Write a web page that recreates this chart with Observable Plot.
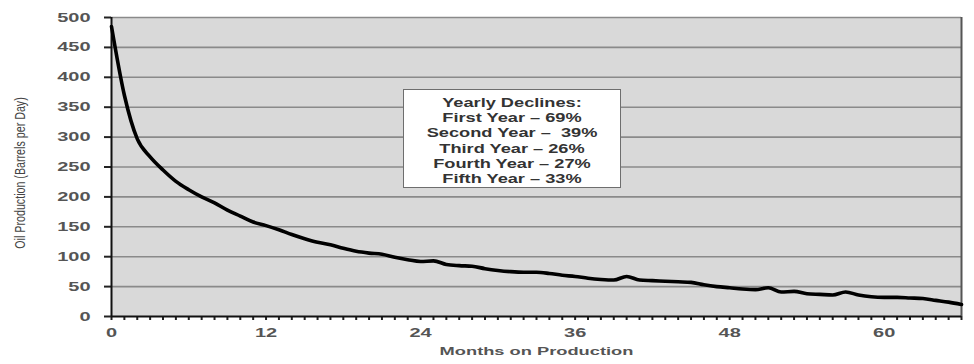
<!DOCTYPE html>
<html>
<head>
<meta charset="utf-8">
<script src="https://cdn.jsdelivr.net/npm/d3@7"></script>
<script src="https://cdn.jsdelivr.net/npm/@observablehq/plot@0.6"></script>
<style>
  html, body { margin: 0; padding: 0; background: #fff; }
  #wrap { position: relative; width: 974px; height: 364px; overflow: hidden; }
  #note {
    position: absolute; left: 403px; top: 89px; width: 218px; height: 99px;
    box-sizing: border-box; background: #fff; border: 1px solid #6e6e6e;
    padding-top: 5px;
    font-family: "Liberation Sans", Arial, sans-serif; font-weight: bold;
    font-size: 13px; color: #333; text-align: center;
  }
  #note div { height: 15.2px; line-height: 15.2px; transform: scaleX(1.4); white-space: pre; }
</style>
</head>
<body>
<div id="wrap"><div id="note"></div></div>
<script>
// ---- data ----
const months = d3.range(0, 67);
const production = [485, 370, 297, 267, 245, 226, 212, 200, 190, 178, 168, 158, 152,
  145, 137, 130, 124, 120, 114, 109, 106, 104, 99, 95, 92,
  93, 87, 85, 84, 80, 77, 75, 74, 74, 72, 69, 67,
  64, 62, 61, 67, 61, 60, 59, 58, 57, 53, 50, 48,
  46, 45, 48, 41, 42, 38, 37, 36, 41, 36, 33, 32,
  32, 31, 30, 27, 24, 20];
const yTicks = [0, 50, 100, 150, 200, 250, 300, 350, 400, 450, 500];
const xLabelTicks = [0, 12, 24, 36, 48, 60];
const yLabel = "Oil Production (Barrels per Day)";
const xLabel = "Months on Production";
const noteLines = ["Yearly Declines:", "First Year \u2013 69%", "Second Year \u2013  39%",
  "Third Year \u2013 26%", "Fourth Year \u2013 27%", "Fifth Year \u2013 33%"];

const data = months.map((m, i) => ({month: m, oil: production[i]}));

const chart = Plot.plot({
  width: 974, height: 364,
  marginLeft: 111, marginRight: 13, marginTop: 17, marginBottom: 48,
  style: {background: "#fff", fontFamily: "'Liberation Sans', Arial, sans-serif", fontSize: "12.5px", color: "#555"},
  x: {domain: [0, 66], axis: null},
  y: {domain: [0, 500], axis: null},
  marks: [
    Plot.frame({fill: "#d9d9d9", stroke: "none"}),
    Plot.ruleY(yTicks.filter(d => d > 0), {stroke: "#8a8a8a", strokeWidth: 1.6}),
    Plot.ruleX([66], {stroke: "#555", strokeWidth: 2}),
    Plot.axisY({ticks: yTicks, tickSize: 7, tickPadding: 14, label: null, stroke: "#222", strokeWidth: 2, fill: "#555", fontWeight: "bold"}),
    Plot.axisX({ticks: months, tickSize: 4, tickPadding: 8, label: null, stroke: "#222", strokeWidth: 2, fill: "#555", fontWeight: "bold",
      tickFormat: d => xLabelTicks.includes(d) ? String(d) : ""}),
    Plot.ruleX([0], {stroke: "#111", strokeWidth: 2}),
    Plot.ruleY([0], {stroke: "#111", strokeWidth: 2}),
    Plot.line(data, {x: "month", y: "oil", stroke: "#000", strokeWidth: 3.6, curve: "monotone-x"}),
    Plot.text([yLabel], {frameAnchor: "left", textAnchor: "middle", rotate: -90, dx: -91, dy: 6, fontSize: 10.7, fill: "#444"}),
    Plot.text([xLabel], {frameAnchor: "bottom", dy: 38, fontSize: 11.6, fontWeight: "bold", fill: "#555"})
  ]
});

document.getElementById("wrap").prepend(chart);

// widen glyphs (the reference image is stretched horizontally)
function stretchEl(t, sx, sy) {
  const tr = t.getAttribute("transform") || "";
  t.setAttribute("transform", `${tr} scale(${sx},${sy})`);
}
chart.querySelectorAll('g[aria-label="y-axis tick label"] text').forEach(t => stretchEl(t, 1.6, 1));
chart.querySelectorAll('g[aria-label="x-axis tick label"] text').forEach(t => stretchEl(t, 1.6, 1));
chart.querySelectorAll('g[aria-label="text"] text').forEach(t => {
  if (t.textContent === xLabel) {
    const L = t.getComputedTextLength();
    stretchEl(t, L > 0 ? 194 / L : 1.55, 1);
  } else if (t.textContent === yLabel) {
    stretchEl(t, 1, 1.4);
  }
});

const note = document.getElementById("note");
noteLines.forEach(s => { const d = document.createElement("div"); d.textContent = s; note.appendChild(d); });
</script>
</body>
</html>
